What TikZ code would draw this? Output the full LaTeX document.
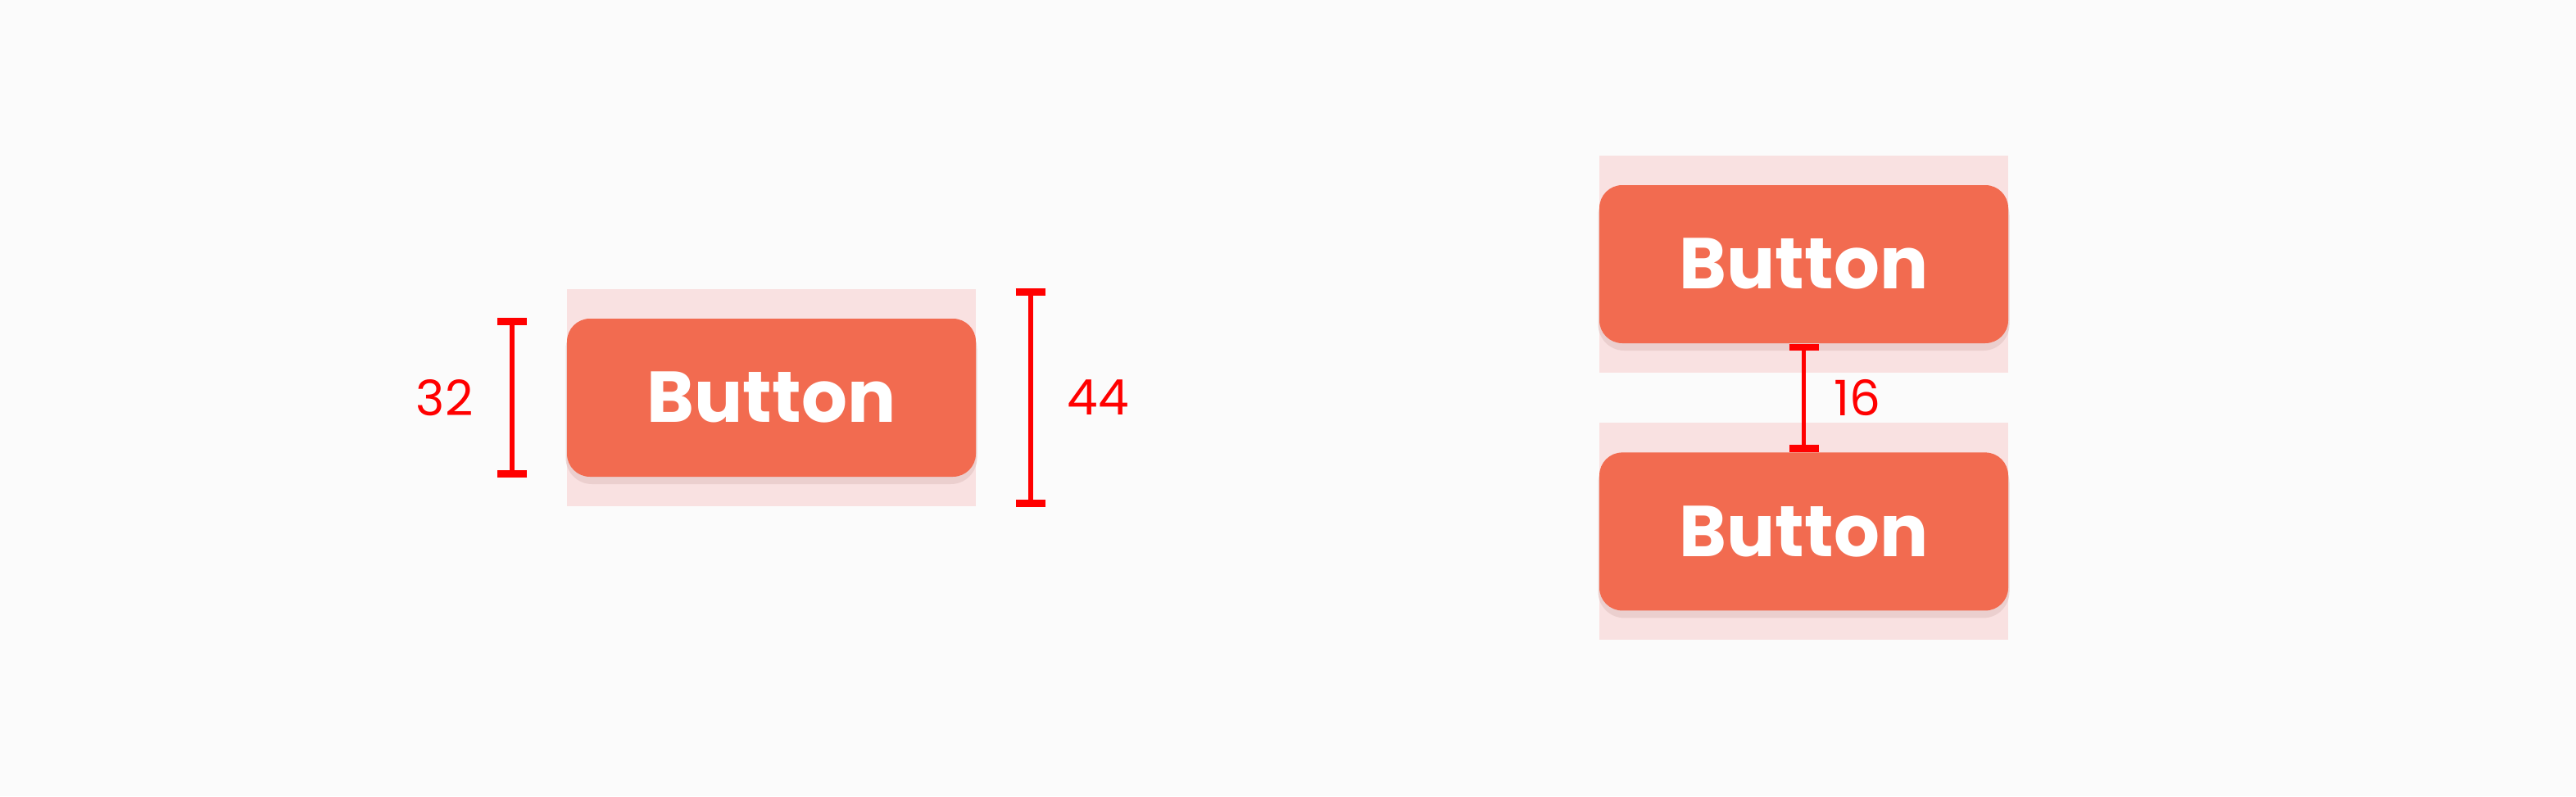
\documentclass[tikz,border=0pt]{standalone}
\usepackage{fontspec}
\setmainfont{Poppins}
\usetikzlibrary{arrows.meta, positioning, calc}
\definecolor{bgcol}{HTML}{FBFBFB}
\definecolor{touchpink}{HTML}{F9E1E1}
\definecolor{btncol}{HTML}{F26B50}
\definecolor{dimred}{HTML}{FF0000}
\definecolor{shadowcol}{HTML}{E6C8C6}

\begin{document}
\begin{tikzpicture}[
    touch/.style={rectangle, fill=touchpink, minimum width=4.99cm, minimum height=2.65cm, inner sep=0pt},
    btn/.style={rectangle, fill=btncol, rounded corners=0.28cm, minimum width=4.99cm, minimum height=1.93cm, inner sep=0pt, text=white, font=\fontsize{25}{30}\selectfont\bfseries},
    btnshadow/.style={rectangle, fill=shadowcol, opacity=0.7, rounded corners=0.32cm, minimum width=5.02cm, minimum height=1.97cm, inner sep=0pt},
    dim/.style={{Bar[width=0.36cm, line width=2.4pt]}-{Bar[width=0.36cm, line width=2.4pt]}, line width=1.6pt, draw=dimred},
    dimlbl/.style={text=dimred, font=\fontsize{17}{20}\selectfont, inner sep=0pt}
]
    \fill[bgcol] (0,0) rectangle (31.44,9.72);

    % single button
    \node[touch] (tapA) at (9.415,4.865) {};
    \node[btnshadow] at ($(tapA)+(0,-0.07)$) {};
    \node[btn] (btnA) at (tapA) {Button};
    \draw[dim] ($(btnA.north west)+(-0.66,0)$) -- node[left=0.45cm, dimlbl] {32} ($(btnA.south west)+(-0.66,0)$);
    \draw[dim] ($(tapA.north east)+(0.66,0)$) -- node[right=0.42cm, dimlbl] {44} ($(tapA.south east)+(0.66,0)$);

    % stacked buttons
    \node[touch] (tapB) at (22.015,6.495) {};
    \node[touch, below=0.6cm of tapB] (tapC) {};
    \node[btnshadow] at ($(tapB)+(0,-0.07)$) {};
    \node[btnshadow] at ($(tapC)+(0,-0.07)$) {};
    \node[btn] (btnB) at (tapB) {Button};
    \node[btn] (btnC) at (tapC) {Button};
    \draw[dim] (btnB.south) -- node[right=0.34cm, dimlbl] {16} (btnC.north);
\end{tikzpicture}
\end{document}
